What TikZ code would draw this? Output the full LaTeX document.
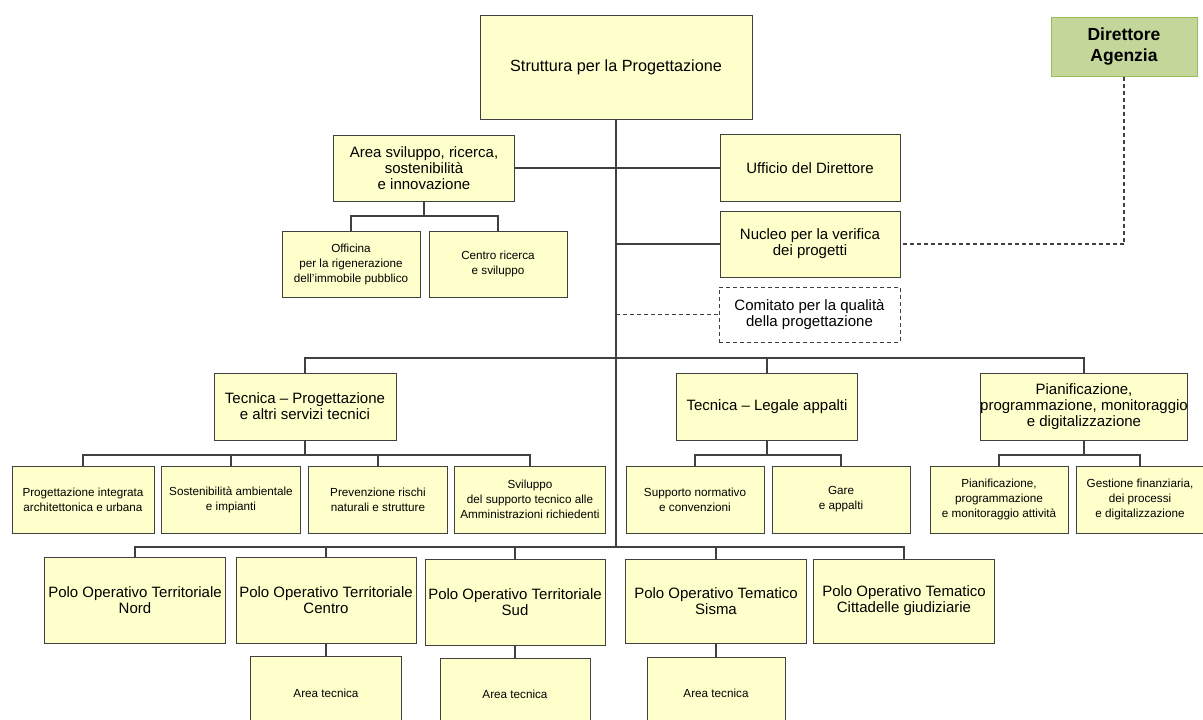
\documentclass[tikz,border=0pt]{standalone}
\usepackage{fontspec}
\setmainfont{Liberation Sans}
\usetikzlibrary{calc}
\definecolor{boxfill}{HTML}{FFFFCC}
\definecolor{boxline}{HTML}{404040}
\definecolor{dirfill}{HTML}{C4D79B}
\definecolor{dirline}{HTML}{9BBB59}
\tikzset{
  box/.style={draw=boxline, fill=boxfill, line width=1pt, align=center, inner sep=0pt, font=\fontsize{15}{16}\selectfont},
  sbox/.style={box, font=\fontsize{11.7}{15}\selectfont},
  conn/.style={draw=boxline, line width=1.3pt},
  dconn/.style={draw=boxline, line width=1.3pt, dash pattern=on 4pt off 3pt},
}
\begin{document}
\begin{tikzpicture}[x=1pt,y=-1pt]
\useasboundingbox (0,0) rectangle (1203,720);
\clip (0,0) rectangle (1203,720);
% top
\node[box, font=\fontsize{16.2}{18}\selectfont, minimum width=272pt, minimum height=104pt] (s) at (616,67) {Struttura per la Progettazione};
\node[draw=dirline, fill=dirfill, line width=1pt, align=center, font=\bfseries\fontsize{17.5}{21}\selectfont, minimum width=146pt, minimum height=59pt, text depth=3pt] (dir) at (1124,46.5) {Direttore\\Agenzia};
\node[box, minimum width=181pt, minimum height=66pt] (area) at (424,168) {Area sviluppo, ricerca,\\sostenibilità\\e innovazione};
\node[box, minimum width=180pt, minimum height=67pt] (uff) at (810,168) {Ufficio del Direttore};
\node[box, minimum width=180pt, minimum height=66pt] (nuc) at (810,244) {Nucleo per la verifica\\dei progetti};
\node[box, fill=white, dash pattern=on 4pt off 3pt, minimum width=181pt, minimum height=55pt] (com) at (809.5,314.5) {Comitato per la qualità\\della progettazione};
\node[sbox, minimum width=138pt, minimum height=66pt] (off) at (351,264) {Officina\\per la rigenerazione\\dell’immobile pubblico};
\node[sbox, minimum width=138pt, minimum height=66pt] (cen) at (498,264) {Centro ricerca\\e sviluppo};
% second level
\node[box, minimum width=182pt, minimum height=67pt] (tp) at (305,406.5) {Tecnica – Progettazione\\e altri servizi tecnici};
\node[box, minimum width=181pt, minimum height=67pt] (tl) at (767,406.5) {Tecnica – Legale appalti};
\node[box, minimum width=207pt, minimum height=67pt] (pi) at (1084,406.5) {Pianificazione,\\programmazione, monitoraggio\\e digitalizzazione};
% children
\node[sbox, minimum width=142pt, minimum height=67pt] (c1) at (83,499.5) {Progettazione integrata\\architettonica e urbana};
\node[sbox, minimum width=139pt, minimum height=67pt] (c2) at (231,499.5) {Sostenibilità ambientale\\e impianti};
\node[sbox, minimum width=139pt, minimum height=67pt] (c3) at (378,499.5) {Prevenzione rischi\\naturali e strutture};
\node[sbox, minimum width=151pt, minimum height=67pt] (c4) at (530,499.5) {Sviluppo\\del supporto tecnico alle\\Amministrazioni richiedenti};
\node[sbox, minimum width=138pt, minimum height=67pt] (c5) at (695,499.5) {Supporto normativo\\e convenzioni};
\node[sbox, minimum width=138pt, minimum height=67pt] (c6) at (841,499.5) {Gare\\e appalti};
\node[sbox, minimum width=138pt, minimum height=67pt] (c7) at (999,499.5) {Pianificazione,\\programmazione\\e monitoraggio attività};
\node[sbox, minimum width=128pt, minimum height=67pt] (c8) at (1140,499.5) {Gestione finanziaria,\\dei processi\\e digitalizzazione};
% poli
\node[box, minimum width=181pt, minimum height=86pt] (p1) at (135,600) {Polo Operativo Territoriale\\Nord};
\node[box, minimum width=180pt, minimum height=86pt] (p2) at (326,600) {Polo Operativo Territoriale\\Centro};
\node[box, minimum width=180pt, minimum height=86pt] (p3) at (515,602.5) {Polo Operativo Territoriale\\Sud};
\node[box, minimum width=181pt, minimum height=84pt] (p4) at (716,601) {Polo Operativo Tematico\\Sisma};
\node[box, minimum width=181pt, minimum height=84pt] (p5) at (904,601) {Polo Operativo Tematico\\Cittadelle giudiziarie};
\node[sbox, minimum width=151pt, minimum height=74pt] (a1) at (326,693) {Area tecnica};
\node[sbox, minimum width=150pt, minimum height=72pt] (a2) at (515,694) {Area tecnica};
\node[sbox, minimum width=138pt, minimum height=73pt] (a3) at (716,693.5) {Area tecnica};
% coordinates
\coordinate (tb) at (616,547);
\coordinate (b1) at (616,358);
\coordinate (ab) at (424,216);
\coordinate (tpb) at (305,455);
\coordinate (tlb) at (767,455);
\coordinate (pib) at (1084,455);
% connectors
\draw[conn] (s.south) -- (tb);
\draw[conn] (area.east) -- (uff.west);
\draw[conn] (nuc.west -| s.south) -- (nuc.west);
\draw[dconn] (com.west -| s.south) -- (com.west);
\draw[dconn] (dir.south) |- (nuc.east);
\draw[conn] (area.south) -- (ab);
\draw[conn] (off.north) |- (ab) -| (cen.north);
\draw[conn] (tp.north) |- (b1) -| (pi.north);
\draw[conn] (tl.north) -- (tl.north |- b1);
\draw[conn] (tp.south) -- (tpb);
\draw[conn] (c1.north) |- (tpb) -| (c4.north);
\draw[conn] (c2.north) -- (c2.north |- tpb);
\draw[conn] (c3.north) -- (c3.north |- tpb);
\draw[conn] (tl.south) -- (tlb);
\draw[conn] (c5.north) |- (tlb) -| (c6.north);
\draw[conn] (pi.south) -- (pib);
\draw[conn] (c7.north) |- (pib) -| (c8.north);
\draw[conn] (p1.north) |- (tb) -| (p5.north);
\draw[conn] (p2.north) -- (p2.north |- tb);
\draw[conn] (p3.north) -- (p3.north |- tb);
\draw[conn] (p4.north) -- (p4.north |- tb);
\draw[conn] (a1.north) -- (a1.north |- p2.south);
\draw[conn] (a2.north) -- (a2.north |- p3.south);
\draw[conn] (a3.north) -- (a3.north |- p4.south);
\end{tikzpicture}
\end{document}
